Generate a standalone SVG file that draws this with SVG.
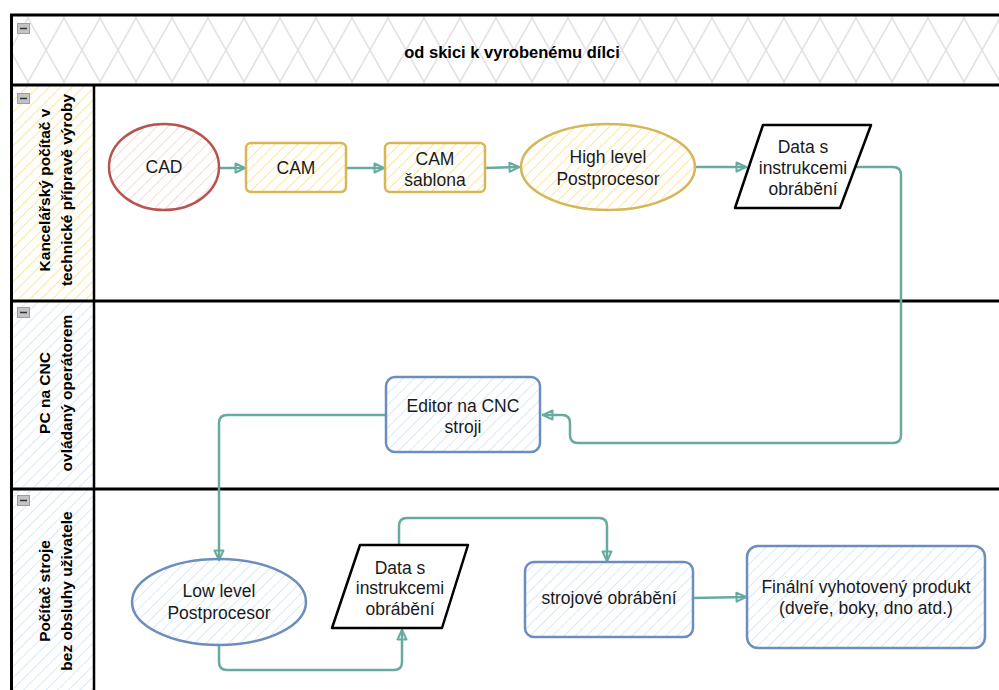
<svg xmlns="http://www.w3.org/2000/svg" width="999" height="690" viewBox="0 0 999 690">
<defs>
<pattern id="cross" patternUnits="userSpaceOnUse" x="28" y="18" width="36" height="64">
<path d="M0,0 L36,64 M36,0 L0,64" stroke="#e2e2e2" stroke-width="1.6" fill="none"/>
</pattern>
<pattern id="hY" patternUnits="userSpaceOnUse" width="8" height="8" patternTransform="rotate(45)">
<line x1="0" y1="0" x2="0" y2="8" stroke="#ffd966" stroke-width="1.3"/>
</pattern>
<pattern id="hB" patternUnits="userSpaceOnUse" width="8" height="8" patternTransform="rotate(45)">
<line x1="0" y1="0" x2="0" y2="8" stroke="#c6dbf7" stroke-width="1.3"/>
</pattern>
<pattern id="hR" patternUnits="userSpaceOnUse" width="8" height="8" patternTransform="rotate(45)">
<line x1="0" y1="0" x2="0" y2="8" stroke="#f6c3c1" stroke-width="1.3"/>
</pattern>
<marker id="arr" viewBox="0 0 12 12" refX="11" refY="6" markerWidth="12" markerHeight="12" markerUnits="userSpaceOnUse" orient="auto">
<path d="M1.5,1.5 L11,6 L1.5,10.5 Z" fill="none" stroke="#67ab9f" stroke-width="2" stroke-linejoin="round"/>
</marker>
</defs>
<style>
.frame{stroke:#000;stroke-width:3;fill:none}
.lbl{font-family:"Liberation Sans",Arial,sans-serif;font-size:15.5px;font-weight:bold;fill:#000;text-anchor:middle}
.title{font-family:"Liberation Sans",Arial,sans-serif;font-size:16.5px;font-weight:bold;fill:#000;text-anchor:middle}
.t{font-family:"Liberation Sans",Arial,sans-serif;font-size:17.5px;fill:#1a1a1a;text-anchor:middle}
.con{fill:none;stroke:#67ab9f;stroke-width:2.5;stroke-linecap:round;stroke-linejoin:round}
.icon rect{fill:#c4c4c4;stroke:#9c9c9c;stroke-width:1}
.icon line{stroke:#333;stroke-width:1.5}
.red{stroke:#b85450;stroke-width:2.5;fill:url(#hR)}
.yel{stroke:#d6b656;stroke-width:2.5;fill:url(#hY)}
.blu{stroke:#6c8ebf;stroke-width:2.5;fill:url(#hB)}
.dat{stroke:#000;stroke-width:2.5;fill:#fff;stroke-linejoin:round}
</style>
<rect width="999" height="690" fill="#fff"/>
<g id="pool">
<rect x="13" y="16.5" width="990" height="67" fill="url(#cross)"/>
<rect x="13" y="86.5" width="80" height="213" fill="url(#hY)"/>
<rect x="13" y="302.5" width="80" height="185" fill="url(#hB)"/>
<rect x="13" y="490.5" width="80" height="200" fill="url(#hB)"/>
<line class="frame" x1="10" y1="15" x2="1005" y2="15"/>
<line class="frame" x1="11.5" y1="14" x2="11.5" y2="695"/>
<line class="frame" x1="10" y1="85" x2="1005" y2="85"/>
<line class="frame" x1="10" y1="301" x2="1005" y2="301"/>
<line class="frame" x1="10" y1="489" x2="1005" y2="489"/>
<line class="frame" x1="94" y1="85" x2="94" y2="695" style="stroke-width:2.5"/>
<g class="icon"><rect x="17.5" y="23.5" width="12" height="10"/><line x1="20" y1="28.5" x2="27" y2="28.5"/></g>
<g class="icon"><rect x="17.5" y="93.5" width="12" height="10"/><line x1="20" y1="98.5" x2="27" y2="98.5"/></g>
<g class="icon"><rect x="17.5" y="307.5" width="12" height="10"/><line x1="20" y1="312.5" x2="27" y2="312.5"/></g>
<g class="icon"><rect x="17.5" y="495.5" width="12" height="10"/><line x1="20" y1="500.5" x2="27" y2="500.5"/></g>
<text class="title" x="512" y="58">od skici k vyrobenému dílci</text>
</g>
<g id="lane1-label" transform="translate(0,190) rotate(-90)">
<text class="lbl" x="0" y="50">Kancelářský počítač v</text>
<text class="lbl" x="0" y="72">technické přípravě výroby</text>
</g>
<g id="lane2-label" transform="translate(0,393) rotate(-90)">
<text class="lbl" x="0" y="50">PC na CNC</text>
<text class="lbl" x="0" y="72">ovládaný operátorem</text>
</g>
<g id="lane3-label" transform="translate(0,591) rotate(-90)">
<text class="lbl" x="0" y="50">Počítač stroje</text>
<text class="lbl" x="0" y="72">bez obsluhy uživatele</text>
</g>
<g id="connectors">
<path class="con" marker-end="url(#arr)" d="M219,168 L245,168"/>
<path class="con" marker-end="url(#arr)" d="M346,168 L384,168"/>
<path class="con" marker-end="url(#arr)" d="M485,168 L519,167"/>
<path class="con" marker-end="url(#arr)" d="M695,167 L746,167"/>
<path class="con" marker-end="url(#arr)" d="M855,167 L893,167 Q901,167 901,175 L901,435 Q901,443 893,443 L578,443 Q570,443 570,435 L570,423 Q570,415 562,415 L543,415"/>
<path class="con" marker-end="url(#arr)" d="M386,415 L227,415 Q219,415 219,423 L219,560"/>
<path class="con" marker-end="url(#arr)" d="M219,645 L219,662 Q219,670 227,670 L394,670 Q402,670 402,662 L402,630"/>
<path class="con" marker-end="url(#arr)" d="M399,545 L399,526 Q399,518 407,518 L599,518 Q607,518 607,526 L607,561"/>
<path class="con" marker-end="url(#arr)" d="M693,598 L746,597"/>
</g>
<g id="cad"><ellipse class="red" cx="164" cy="167" rx="55" ry="43"/><text class="t" x="164" y="173">CAD</text></g>
<g id="cam"><rect class="yel" x="246" y="143" width="100" height="49" rx="5"/><text class="t" x="296" y="174">CAM</text></g>
<g id="cam-sablona"><rect class="yel" x="385" y="143" width="100" height="49" rx="5"/><text class="t" x="435" y="165">CAM</text><text class="t" x="435" y="186">šablona</text></g>
<g id="high-level"><ellipse class="yel" cx="608" cy="167" rx="87" ry="43"/><text class="t" x="608" y="163">High level</text><text class="t" x="608" y="185">Postprocesor</text></g>
<g id="data-top"><path class="dat" d="M763,125 L871,125 L840,208 L735,208 Z"/><text class="t" x="803" y="153">Data s</text><text class="t" x="803" y="174">instrukcemi</text><text class="t" x="803" y="195">obrábění</text></g>
<g id="editor"><rect class="blu" x="386" y="377" width="154" height="75" rx="9"/><text class="t" x="463" y="412">Editor na CNC</text><text class="t" x="463" y="433">stroji</text></g>
<g id="low-level"><ellipse class="blu" cx="219" cy="602" rx="87" ry="43"/><text class="t" x="219" y="597">Low level</text><text class="t" x="219" y="619">Postprocesor</text></g>
<g id="data-bottom"><path class="dat" d="M360,545 L468,545 L442,628 L332,628 Z"/><text class="t" x="400" y="574">Data s</text><text class="t" x="400" y="594">instrukcemi</text><text class="t" x="400" y="615">obrábění</text></g>
<g id="strojove"><rect class="blu" x="525" y="562" width="168" height="75" rx="9"/><text class="t" x="609" y="604">strojové obrábění</text></g>
<g id="final"><rect class="blu" x="747" y="546" width="238" height="102" rx="11"/><text class="t" x="866" y="593">Finální vyhotovený produkt</text><text class="t" x="866" y="614">(dveře, boky, dno atd.)</text></g>
</svg>
